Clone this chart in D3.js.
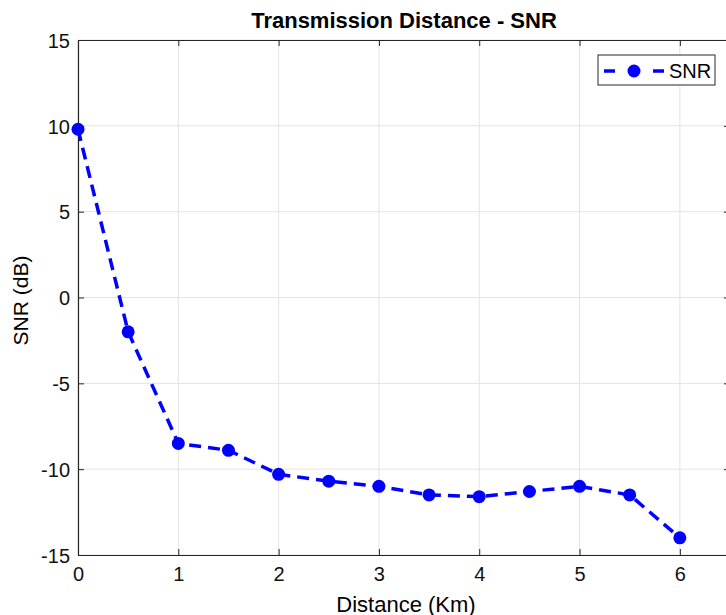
<!DOCTYPE html>
<meta charset="utf-8">
<style>
body { margin: 0; background: white; }
text { font-family: "Liberation Sans", Arial, sans-serif; }
</style>
<svg width="726" height="615"></svg>
<script src="https://d3js.org/d3.v7.min.js"></script>
<script>

var distance = [0, 0.5, 1, 1.5, 2, 2.5, 3, 3.5, 4, 4.5, 5, 5.5, 6];
var snr = [9.8, -2, -8.5, -8.9, -10.3, -10.7, -11, -11.5, -11.6, -11.3, -11, -11.5, -14];
var xTicks = [0, 1, 2, 3, 4, 5, 6];
var yTicks = [-15, -10, -5, 0, 5, 10, 15];

var svg = d3.select("svg");
var mLeft = 78, mRight = 730, mTop = 40, mBottom = 555;

var x = d3.scaleLinear().domain([0, 6.5]).range([mLeft, mRight]);
var y = d3.scaleLinear().domain([-15, 15]).range([mBottom, mTop]);

var axisColor = "#262626";
var plain = function(d) { return String(d); };

// grid
svg.append("g").selectAll("line")
  .data(xTicks)
  .enter().append("line")
    .attr("x1", function(d) { return x(d); })
    .attr("x2", function(d) { return x(d); })
    .attr("y1", mTop).attr("y2", mBottom)
    .attr("stroke", "#e3e3e3").attr("stroke-width", 1);

svg.append("g").selectAll("line")
  .data(yTicks)
  .enter().append("line")
    .attr("y1", function(d) { return y(d); })
    .attr("y2", function(d) { return y(d); })
    .attr("x1", mLeft).attr("x2", mRight)
    .attr("stroke", "#e3e3e3").attr("stroke-width", 1);

// axes (ticks inward, box on)
var xb = svg.append("g").attr("transform", "translate(0," + mBottom + ")")
  .call(d3.axisBottom(x).tickValues(xTicks).tickFormat(plain).tickSizeInner(-6).tickSizeOuter(0).tickPadding(12));
var xt = svg.append("g").attr("transform", "translate(0," + mTop + ")")
  .call(d3.axisTop(x).tickValues(xTicks).tickSizeInner(-6).tickSizeOuter(0).tickFormat(""));
var yl = svg.append("g").attr("transform", "translate(" + mLeft + ",0)")
  .call(d3.axisLeft(y).tickValues(yTicks).tickFormat(plain).tickSizeInner(-6).tickSizeOuter(0).tickPadding(8));
var yr = svg.append("g").attr("transform", "translate(" + mRight + ",0)")
  .call(d3.axisRight(y).tickValues(yTicks).tickSizeInner(-6).tickSizeOuter(0).tickFormat(""));

[xb, xt, yl, yr].forEach(function(g) {
  g.selectAll("path").attr("stroke", axisColor).attr("stroke-width", 1.2);
  g.selectAll("line").attr("stroke", axisColor);
  g.selectAll("text").attr("fill", "#111").style("font-size", "20px")
    .style("font-family", "'Liberation Sans', Arial, sans-serif");
});
yl.selectAll("text").attr("dy", "0.36em");

// line
var line = d3.line()
  .x(function(d, i) { return x(distance[i]); })
  .y(function(d) { return y(d); });

svg.append("path")
  .datum(snr)
  .attr("d", line)
  .attr("fill", "none")
  .attr("stroke", "#0000ff")
  .attr("stroke-width", 3.5)
  .attr("stroke-dasharray", "12,7");

svg.append("g").selectAll("circle")
  .data(snr)
  .enter().append("circle")
    .attr("cx", function(d, i) { return x(distance[i]); })
    .attr("cy", function(d) { return y(d); })
    .attr("r", 6.5)
    .attr("fill", "#0000ff");

// title and labels
svg.append("text")
  .attr("x", (mLeft + mRight) / 2).attr("y", 28)
  .attr("text-anchor", "middle")
  .style("font-size", "22px").style("font-weight", "bold")
  .text("Transmission Distance - SNR");

svg.append("text")
  .attr("x", (mLeft + mRight) / 2 + 2).attr("y", 612)
  .attr("text-anchor", "middle")
  .style("font-size", "22px")
  .text("Distance (Km)");

svg.append("text")
  .attr("transform", "translate(28," + (y(0) + 3) + ") rotate(-90)")
  .attr("text-anchor", "middle")
  .style("font-size", "21px")
  .text("SNR (dB)");

// legend
var lg = svg.append("g").attr("transform", "translate(598,55)");
lg.append("rect")
  .attr("width", 117).attr("height", 30)
  .attr("fill", "white").attr("stroke", axisColor).attr("stroke-width", 1);
lg.append("line")
  .attr("x1", 6).attr("x2", 66).attr("y1", 16).attr("y2", 16)
  .attr("stroke", "#0000ff").attr("stroke-width", 3.5)
  .attr("stroke-dasharray", "11,38");
lg.append("circle").attr("cx", 36).attr("cy", 16).attr("r", 6.5).attr("fill", "#0000ff");
lg.append("text").attr("x", 71).attr("y", 23).style("font-size", "20px").text("SNR");

</script>
